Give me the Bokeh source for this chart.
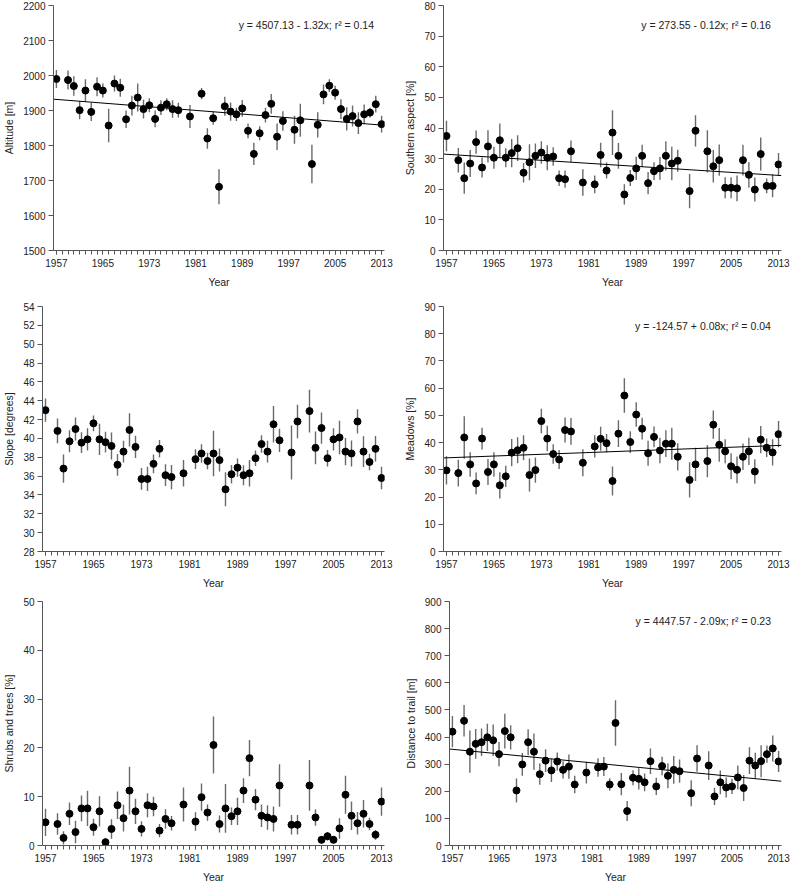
import numpy as np
from bokeh.plotting import figure
from bokeh.layouts import column, row
from bokeh.models import ColumnDataSource, FixedTicker, Range1d, Label
from bokeh.embed import file_html
from bokeh.resources import INLINE

# ---------------- data ----------------
years = ([1957] + list(range(1959, 1979)) + [1980] + list(range(1982, 1997))
         + [1998, 1999] + list(range(2001, 2014)))
label_years = [1957, 1965, 1973, 1981, 1989, 1997, 2005, 2013]
all_years = list(range(1957, 2014))

altitude = [1990, 1987, 1970, 1901, 1957, 1896, 1968, 1957, 1857, 1977, 1965, 1875, 1914, 1937,
            1904, 1915, 1876, 1908, 1918, 1904, 1901, 1883, 1948, 1820, 1878, 1682, 1912, 1897,
            1889, 1906, 1842, 1776, 1835, 1887, 1919, 1825, 1870, 1845, 1872, 1747, 1859, 1946,
            1971, 1951, 1904, 1876, 1884, 1864, 1889, 1894, 1918, 1861]
altitude_err = [26, 27, 28, 26, 32, 26, 27, 20, 48, 23, 26, 25, 28, 40, 27, 20, 24, 21, 17, 25,
                21, 33, 16, 29, 19, 50, 27, 26, 19, 24, 21, 32, 20, 21, 28, 38, 28, 40, 47, 55,
                36, 28, 18, 20, 28, 33, 30, 31, 28, 14, 24, 24]

south = [37.4, 29.5, 23.6, 28.4, 35.4, 27.1, 34.0, 30.3, 36.0, 30.3, 31.8, 33.4, 25.4, 28.8,
         30.9, 32.0, 30.3, 30.7, 23.6, 23.3, 32.4, 22.2, 21.6, 31.2, 26.1, 38.5, 30.9, 18.3,
         23.7, 26.8, 30.9, 22.0, 25.9, 26.8, 30.9, 28.4, 29.3, 19.4, 39.1, 32.4, 27.5, 29.5,
         20.5, 20.5, 20.3, 29.5, 24.7, 19.9, 31.5, 21.1, 21.1, 28.1]
south_err = [5.0, 4.0, 5.1, 4.4, 3.8, 3.3, 5.3, 3.6, 5.5, 3.1, 4.6, 4.2, 3.2, 5.9, 4.0, 3.7,
             4.1, 3.0, 2.5, 2.8, 3.5, 4.3, 2.9, 4.0, 2.6, 7.3, 4.2, 3.3, 2.6, 3.8, 3.6, 3.6,
             2.9, 3.7, 4.8, 5.5, 3.6, 5.6, 5.1, 6.9, 5.3, 5.1, 3.4, 3.4, 4.2, 5.0, 4.2, 3.9,
             5.4, 2.4, 3.7, 3.7]

slope = [43.0, 40.8, 36.8, 39.7, 41.0, 39.55, 39.9, 41.6, 39.9, 39.6, 39.2, 37.2, 38.6, 40.9,
         39.1, 35.7, 35.7, 37.3, 38.9, 36.1, 35.9, 36.3, 37.8, 38.4, 37.6, 38.4, 37.7, 34.6,
         36.2, 36.9, 36.1, 36.3, 37.9, 39.4, 38.6, 41.5, 39.8, 38.5, 41.8, 42.9, 39.0, 41.1,
         37.9, 39.9, 40.1, 38.6, 38.4, 41.8, 38.6, 37.5, 38.9, 35.8]
slope_err = [1.23, 1.32, 1.5, 1.18, 1.23, 1.1, 1.18, 0.83, 1.67, 1.1, 1.44, 1.15, 1.15, 1.76,
             1.18, 1.15, 1.29, 1.0, 0.93, 1.15, 1.29, 1.41, 1.04, 0.99, 0.88, 2.41, 1.22, 1.8,
             0.99, 0.97, 1.06, 1.41, 0.83, 0.93, 1.16, 1.94, 1.23, 2.87, 1.78, 2.27, 1.73, 1.66,
             0.88, 1.18, 1.78, 1.44, 1.39, 1.29, 1.62, 0.88, 1.36, 1.2]

meadows = [29.8, 28.8, 41.9, 32.0, 25.0, 41.5, 29.2, 32.0, 24.3, 27.6, 36.3, 37.2, 38.1, 28.1,
           29.9, 47.9, 41.5, 35.8, 33.8, 44.6, 44.1, 32.6, 38.6, 41.4, 39.8, 25.9, 43.3, 57.3,
           40.2, 50.3, 45.1, 36.1, 42.1, 37.1, 39.6, 39.6, 34.8, 26.3, 32.0, 33.2, 46.6, 39.2,
           36.8, 31.3, 30.0, 34.8, 36.8, 29.4, 41.1, 38.1, 36.4, 43.1]
meadows_err = [5.2, 4.9, 7.8, 4.5, 4.0, 4.0, 4.8, 4.5, 4.8, 3.9, 5.0, 4.8, 4.6, 6.1, 4.6, 4.5,
               4.7, 3.6, 3.5, 4.6, 4.9, 5.0, 4.1, 4.4, 3.4, 5.3, 4.9, 6.3, 4.0, 4.5, 4.0, 4.6,
               3.8, 4.7, 4.9, 5.9, 5.0, 6.5, 6.1, 5.9, 5.2, 6.2, 4.4, 4.8, 4.9, 4.9, 5.0, 4.5,
               5.0, 3.4, 4.8, 4.8]

shrubs = [4.75, 4.4, 1.56, 6.5, 2.75, 7.6, 7.6, 3.75, 7.0, 0.68, 3.4, 8.25, 5.6, 11.25, 7.0,
          3.4, 8.25, 8.0, 3.06, 5.44, 4.56, 8.4, 4.9, 9.9, 6.75, 20.6, 4.4, 7.6, 6.0, 7.0, 11.25,
          17.9, 9.4, 6.1, 5.75, 5.44, 12.3, 4.25, 4.25, 12.3, 5.75, 1.16, 1.9, 1.16, 3.5, 10.4,
          6.1, 4.56, 6.5, 4.4, 2.2, 9.0]
shrubs_err = [2.8, 2.2, 1.36, 2.3, 2.3, 2.65, 3.6, 1.74, 3.1, 0.8, 2.0, 2.8, 2.75, 4.9, 2.6,
              1.56, 2.45, 2.0, 1.36, 2.0, 1.5, 3.5, 1.9, 2.8, 1.66, 5.85, 1.74, 5.0, 1.8, 2.8,
              2.55, 3.7, 2.2, 2.3, 2.5, 2.55, 4.35, 2.0, 2.0, 5.2, 1.7, 0.75, 0.85, 0.75, 2.1,
              3.9, 2.9, 2.3, 2.8, 1.3, 1.0, 2.9]

distance = [420, 460, 346, 375, 381, 399, 388, 337, 422, 399, 203, 299, 381, 346, 263, 313, 277,
            310, 279, 291, 225, 269, 288, 291, 225, 452, 226, 127, 250, 246, 233, 311, 218, 293,
            257, 279, 274, 193, 321, 295, 181, 233, 214, 218, 251, 212, 313, 295, 311, 337, 358,
            310]
distance_err = [58, 58, 78, 55, 51, 50, 58, 45, 64, 45, 44, 42, 48, 67, 39, 42, 43, 33, 32, 45,
                32, 40, 34, 35, 23, 84, 41, 37, 28, 39, 33, 47, 32, 34, 46, 51, 43, 48, 49, 53,
                32, 44, 37, 28, 44, 48, 49, 47, 59, 32, 48, 39]

FONT = "Liberation Sans"
AXC = "#555555"
TXT = "#222222"


def panel(vals, errs, ylabel, y0, y1, yticks, eq, width, height, mbl, mbr, mbt, mbb):
    p = figure(width=width, height=height, output_backend="svg", toolbar_location=None,
               x_range=Range1d(1956.5, 2013.5), y_range=Range1d(y0, y1),
               min_border_left=mbl, min_border_right=mbr, min_border_top=mbt,
               min_border_bottom=mbb)
    p.outline_line_color = None
    p.grid.visible = False
    p.background_fill_color = "white"
    p.border_fill_color = "white"

    xa = p.xaxis[0]
    xa.ticker = FixedTicker(ticks=label_years, minor_ticks=all_years)
    xa.axis_label = "Year"
    xa.major_tick_out = 4
    xa.major_tick_in = 0
    xa.minor_tick_out = 4
    xa.minor_tick_in = 0
    xa.major_label_standoff = 4
    xa.axis_label_standoff = 6

    ya = p.yaxis[0]
    ya.ticker = FixedTicker(ticks=yticks, minor_ticks=[])
    ya.axis_label = ylabel
    ya.major_tick_out = 5
    ya.major_tick_in = 0
    ya.major_label_standoff = 3
    ya.axis_label_standoff = 5

    for ax in (xa, ya):
        ax.axis_line_color = AXC
        ax.major_tick_line_color = AXC
        ax.minor_tick_line_color = AXC
        ax.major_label_text_font = FONT
        ax.major_label_text_font_size = "10px"
        ax.major_label_text_color = TXT
        ax.axis_label_text_font = FONT
        ax.axis_label_text_font_size = "10.5px"
        ax.axis_label_text_font_style = "normal"
        ax.axis_label_text_color = TXT

    v = np.array(vals, dtype=float)
    e = np.array(errs, dtype=float)
    src = ColumnDataSource(dict(x=years, y=v, lo=v - e, hi=v + e))
    p.segment(x0="x", y0="lo", x1="x", y1="hi", source=src, line_color="#6a6a6a",
              line_width=1.4)
    p.scatter(x="x", y="y", source=src, size=7, fill_color="black", line_color="black")

    if eq is not None:
        b, a = np.polyfit(years, v, 1)
        xs = np.array([1956.5, 2013.5])
        p.line(xs, a + b * xs, line_color="black", line_width=1)
        p.add_layout(Label(x=2011.7, y=y1 - (y1 - y0) * 0.079, text=eq,
                           text_align="right", text_baseline="middle",
                           text_font=FONT, text_font_size="10.5px",
                           text_color=TXT))
    return p


LW, RW = 398, 392
H1, H2, H3 = 298, 295, 292
p1 = panel(altitude, altitude_err, "Altitude [m]", 1500, 2200, list(range(1500, 2201, 100)),
           "y = 4507.13 - 1.32x; r\u00b2 = 0.14", LW, H1, 50, 14, 5, 48)
p2 = panel(south, south_err, "Southern aspect [%]", 0, 80, list(range(0, 81, 10)),
           "y = 273.55 - 0.12x; r\u00b2 = 0.16", RW, H1, 45, 9, 5, 48)
p3 = panel(slope, slope_err, "Slope [degrees]", 28, 54, list(range(28, 55, 2)),
           None, LW, H2, 38, 14, 8, 42)
p4 = panel(meadows, meadows_err, "Meadows [%]", 0, 90, list(range(0, 91, 10)),
           "y = -124.57 + 0.08x; r\u00b2 = 0.04", RW, H2, 45, 9, 8, 42)
p5 = panel(shrubs, shrubs_err, "Shrubs and trees [%]", 0, 50, list(range(0, 51, 10)),
           None, LW, H3, 37, 14, 8, 40)
p6 = panel(distance, distance_err, "Distance to trail [m]", 0, 900, list(range(0, 901, 100)),
           "y = 4447.57 - 2.09x; r\u00b2 = 0.23", RW, H3, 51, 9, 8, 40)

layout = column(row(p1, p2), row(p3, p4), row(p5, p6))

open("out.html", "w").write(file_html(layout, INLINE))
